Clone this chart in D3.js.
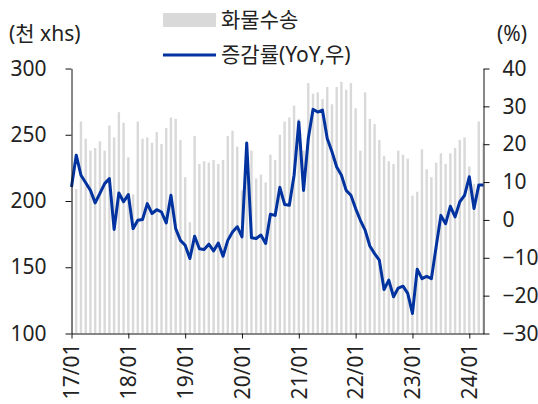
<!DOCTYPE html>
<html>
<head>
<meta charset="utf-8">
<script src="https://cdn.jsdelivr.net/npm/d3@7"></script>
<style>
  body { margin: 0; background: #fff; }
  text { font-family: "Noto Sans", "Noto Sans CJK KR", sans-serif; fill: #222; }
</style>
</head>
<body>
<div id="chart"></div>
<script>
// monthly cargo volume (left axis), 17/01 .. 24/04
var cargo = [
  218, 209, 260, 247, 238, 240, 245, 238, 257, 248, 267, 259,
  233, 205, 260, 247, 248, 244, 252, 243, 255, 263, 262, 246,
  218, 184, 249, 228, 230, 229, 231, 228, 231, 249, 253, 241,
  208, 221, 238, 217, 220, 214, 235, 231, 250, 260, 263, 272,
  262, 238, 289, 281, 282, 277, 286, 273, 286, 290, 284, 289,
  270, 238, 282, 262, 258, 246, 234, 230, 228, 238, 235, 232,
  204, 207, 239, 224, 218, 229, 236, 228, 236, 240, 246, 248,
  226, 213, 260, 244
];

// YoY change in % (right axis)
var yoy = [
  8.7, 17.1, 11.8, 9.8, 7.8, 4.5, 7.0, 9.6, 10.9, -2.5, 7.1, 4.8,
  6.7, -2.3, -0.1, 0.1, 4.3, 1.7, 2.7, 2.1, -0.8, 6.5, -2.3, -5.4,
  -6.7, -10.2, -4.3, -7.6, -7.8, -6.4, -8.2, -6.1, -9.6, -5.4, -3.2, -1.8,
  -4.5, 20.3, -4.7, -4.9, -4.0, -6.2, 1.5, 1.2, 8.6, 4.1, 3.9, 11.8,
  25.9, 7.8, 21.5, 29.2, 28.5, 29.0, 21.5, 18.0, 14.0, 11.8, 7.8, 6.5,
  3.0, -0.1, -2.7, -6.9, -8.9, -10.6, -18.4, -15.9, -20.3, -18.0, -17.5, -19.4,
  -24.7, -13.0, -15.5, -14.9, -15.5, -7.1, 1.2, -1.0, 3.6, 0.8, 4.8, 6.5,
  11.4, 3.0, 9.2, 9.2
];

var tickLabels = ["17/01", "18/01", "19/01", "20/01", "21/01", "22/01", "23/01", "24/01"];
var leftTicks = [100, 150, 200, 250, 300];
var rightTicks = [-30, -20, -10, 0, 10, 20, 30, 40];

// month keys yy/mm
var months = [];
for (var i = 0; i < cargo.length; i++) {
  var yy = 17 + Math.floor(i / 12);
  var mm = (i % 12) + 1;
  months.push(yy + "/" + (mm < 10 ? "0" + mm : mm));
}

var svgWidth = 538;
var svgHeight = 404;
var plotLeft = 71.5, plotRight = 483.5, plotTop = 68.5, plotBottom = 333.5;
var fontSize = "21px";

var svg = d3.select("#chart")
  .append("svg")
  .attr("width", svgWidth)
  .attr("height", svgHeight);

var x = d3.scalePoint().domain(months).range([plotLeft, plotRight]);
var yLeft = d3.scaleLinear().domain([100, 300]).range([plotBottom, plotTop]);
var yRight = d3.scaleLinear().domain([-30, 40]).range([plotBottom, plotTop]);

svg.append("clipPath")
  .attr("id", "plot")
  .append("rect")
  .attr("x", plotLeft)
  .attr("y", plotTop - 5)
  .attr("width", plotRight - plotLeft)
  .attr("height", plotBottom - plotTop + 5);

// bars
svg.append("g")
  .attr("clip-path", "url(#plot)")
  .selectAll("rect")
  .data(cargo)
  .enter()
  .append("rect")
  .attr("x", function(d, i) { return x(months[i]) - 1.2; })
  .attr("width", 2.4)
  .attr("y", function(d) { return yLeft(d); })
  .attr("height", function(d) { return yLeft(100) - yLeft(d); })
  .attr("fill", "#d9d9d9");

// yoy line
var line = d3.line()
  .x(function(d, i) { return x(months[i]); })
  .y(function(d) { return yRight(d); });

svg.append("path")
  .datum(yoy)
  .attr("d", line)
  .attr("fill", "none")
  .attr("stroke", "#0033a0")
  .attr("stroke-width", 3)
  .attr("stroke-linejoin", "round");

// axes
var leftAxis = d3.axisLeft(yLeft).tickValues(leftTicks).tickSize(6).tickSizeOuter(0).tickPadding(19);
var rightAxis = d3.axisRight(yRight).tickValues(rightTicks).tickSize(6).tickSizeOuter(0).tickPadding(13);
var bottomAxis = d3.axisBottom(x)
  .tickValues(tickLabels)
  .tickSize(5)
  .tickSizeOuter(0);

var gl = svg.append("g")
  .attr("transform", "translate(" + plotLeft + ",0)")
  .call(leftAxis);

var gr = svg.append("g")
  .attr("transform", "translate(" + plotRight + ",0)")
  .call(rightAxis);

var gb = svg.append("g")
  .attr("transform", "translate(0," + plotBottom + ")")
  .call(bottomAxis);

gb.selectAll("text")
  .attr("transform", "rotate(-90)")
  .attr("text-anchor", "end")
  .attr("x", -10)
  .attr("y", 0)
  .attr("dy", "0.35em");

[gl, gr, gb].forEach(function(g) {
  g.selectAll("path, line").attr("stroke", "#111");
  g.selectAll("text").style("font-size", fontSize).attr("fill", "#222");
});

// unit labels
svg.append("text")
  .attr("x", 9)
  .attr("y", 41)
  .style("font-size", fontSize)
  .text("(천 xhs)");

svg.append("text")
  .attr("x", 497)
  .attr("y", 41)
  .style("font-size", fontSize)
  .text("(%)");

// legend
var legend = svg.append("g");

legend.append("rect")
  .attr("x", 163)
  .attr("y", 13)
  .attr("width", 53)
  .attr("height", 14)
  .attr("fill", "#d9d9d9");

legend.append("text")
  .attr("x", 221)
  .attr("y", 27)
  .style("font-size", fontSize)
  .text("화물수송");

legend.append("line")
  .attr("x1", 163)
  .attr("x2", 216)
  .attr("y1", 55)
  .attr("y2", 55)
  .attr("stroke", "#0033a0")
  .attr("stroke-width", 3);

legend.append("text")
  .attr("x", 221)
  .attr("y", 62)
  .style("font-size", fontSize)
  .text("증감률(YoY,우)");
</script>
</body>
</html>
